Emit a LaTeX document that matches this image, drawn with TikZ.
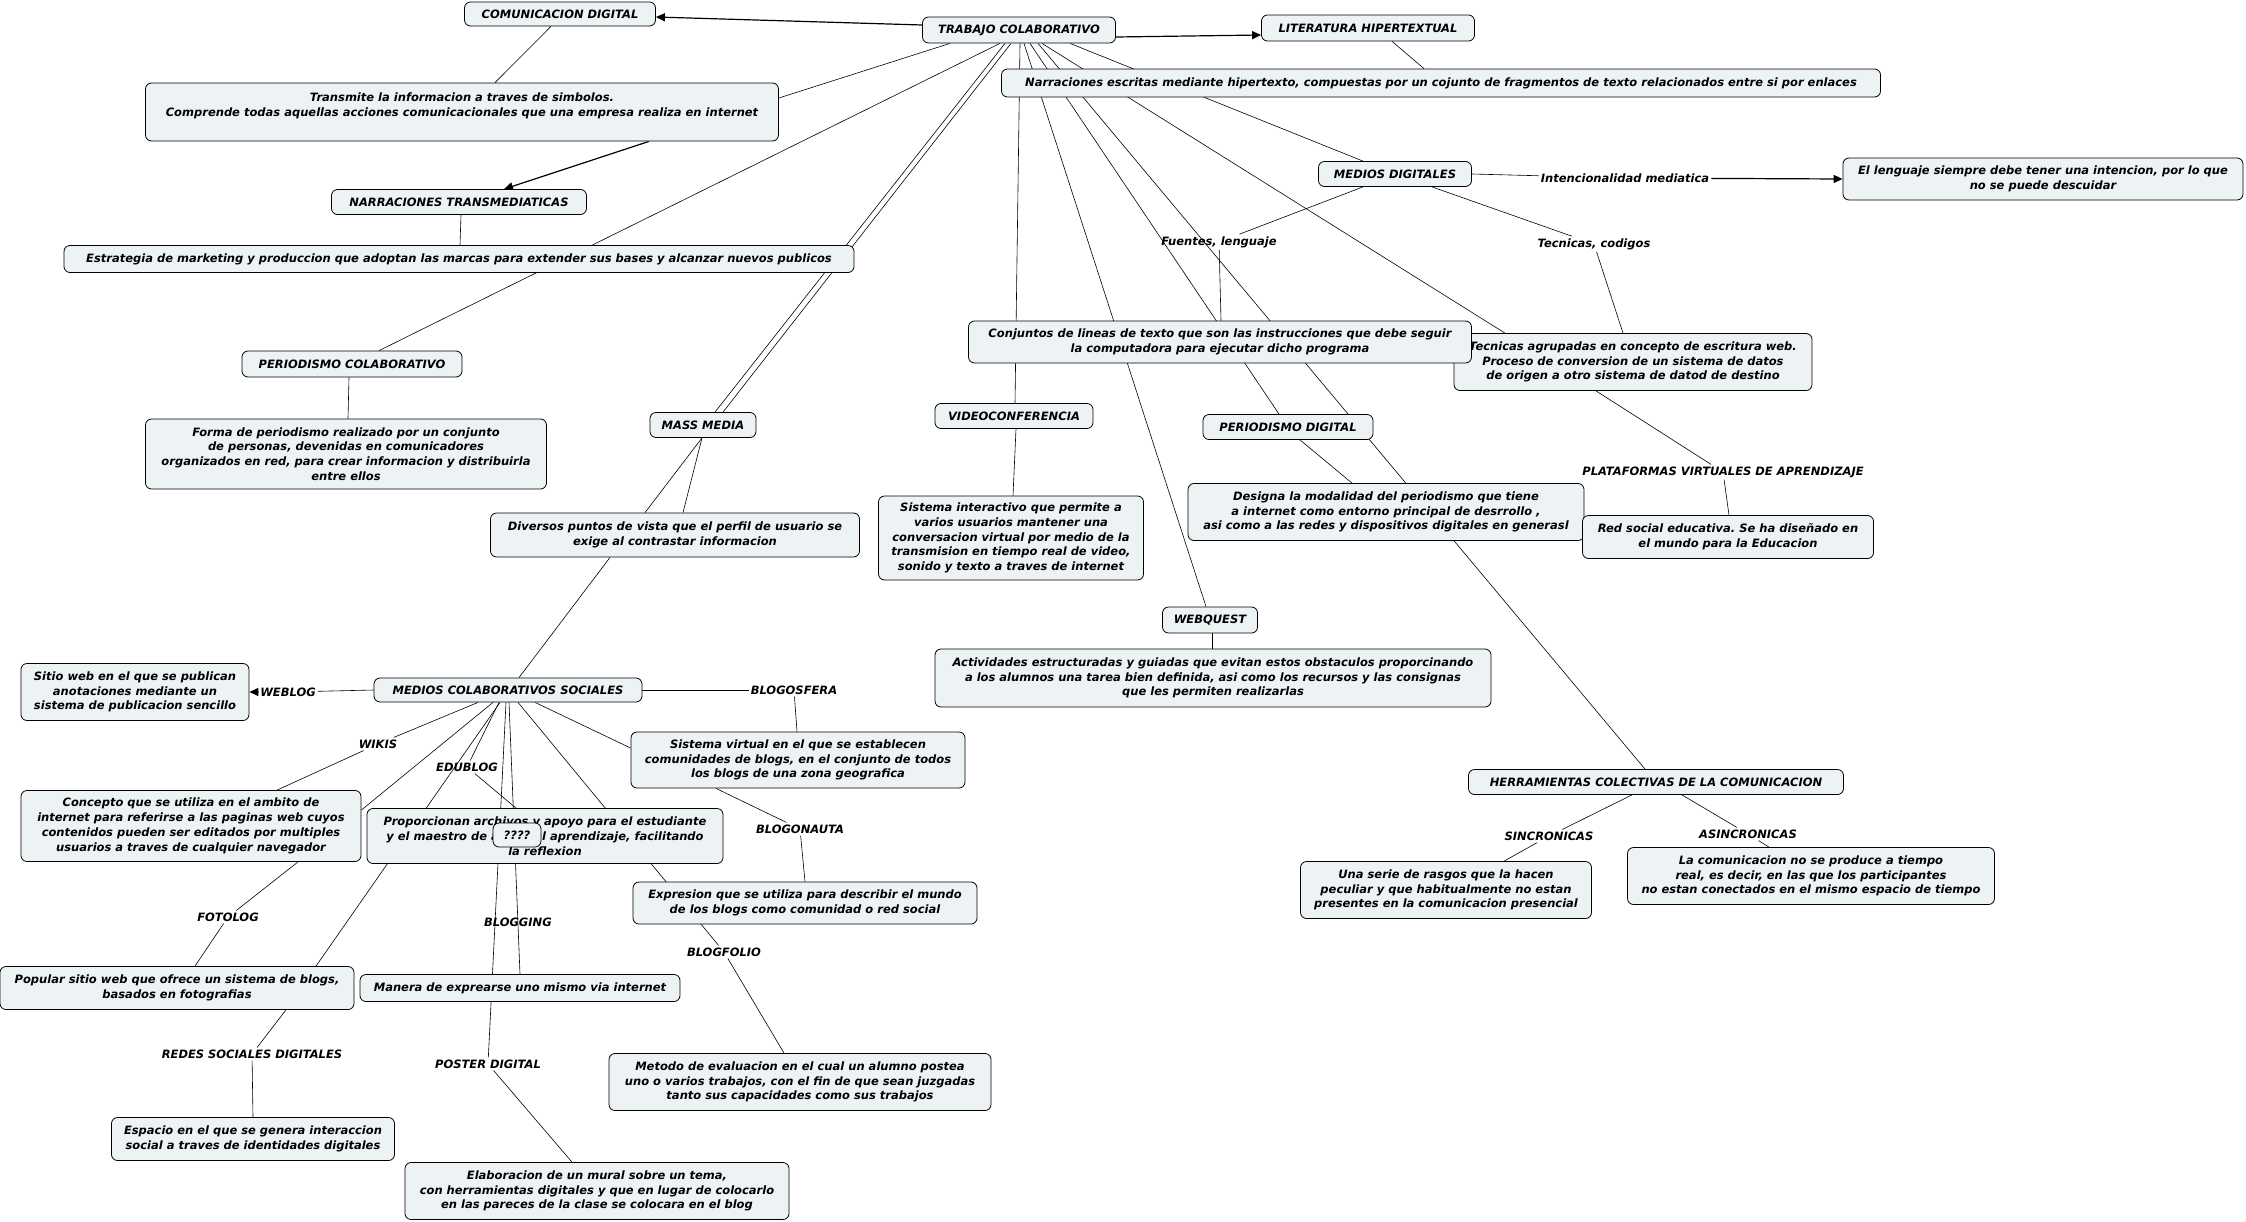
\documentclass[tikz,border=0pt]{standalone}
\usepackage{fontspec}
\setmainfont{DejaVu Sans}
\frenchspacing
\definecolor{ConceptFill}{HTML}{EDF3F5}
\usetikzlibrary{arrows.meta, backgrounds}

\begin{document}
\begin{tikzpicture}[x=1pt, y=-1pt,
    every node/.style={font=\fontsize{11.5}{14.8}\selectfont\bfseries\itshape, align=center},
    concept/.style={draw, fill=ConceptFill, rounded corners=6pt, line width=0.8pt, inner xsep=5pt, inner ysep=3pt},
    linkword/.style={inner sep=2pt},
    conn/.style={line width=0.6pt},
    connarrow/.style={line width=1.2pt, -{Triangle[length=9pt, width=8pt]}}]
  \useasboundingbox (0,0) rectangle (2246,1221);

  % Haut : trabajo colaborativo
  \node[concept, minimum width=191pt, minimum height=24pt] (cd) at (560,14) {COMUNICACION DIGITAL};
  \node[concept, minimum width=193pt, minimum height=26pt] (tc) at (1019,30) {TRABAJO COLABORATIVO};
  \node[concept, minimum width=213pt, minimum height=26pt] (lh) at (1368,28) {LITERATURA HIPERTEXTUAL};
  \node[concept, minimum width=879pt, minimum height=28pt] (narr) at (1441,83) {Narraciones escritas mediante hipertexto, compuestas por un cojunto de fragmentos de texto relacionados entre si por enlaces};
  \node[concept, minimum width=633pt, minimum height=58pt] (tr) at (462,112) {Transmite la informacion a traves de simbolos.\\Comprende todas aquellas acciones comunicacionales que una empresa realiza en internet\\\mbox{}};
  \node[concept, minimum width=255pt, minimum height=25pt] (nt) at (459,202) {NARRACIONES TRANSMEDIATICAS};
  \node[concept, minimum width=790pt, minimum height=27pt] (est) at (459,259) {Estrategia de marketing y produccion que adoptan las marcas para extender sus bases y alcanzar nuevos publicos};
  \node[concept, minimum width=220pt, minimum height=26pt] (pc) at (352,364) {PERIODISMO COLABORATIVO};
  \node[concept, minimum width=401pt, minimum height=70pt] (forma) at (346,454) {Forma de periodismo realizado por un conjunto\\de personas, devenidas en comunicadores\\organizados en red, para crear informacion y distribuirla\\entre ellos};
  \node[concept, minimum width=106pt, minimum height=25pt] (mm) at (703,425) {MASS MEDIA};
  \node[concept, minimum width=369pt, minimum height=44pt] (div) at (675,535) {Diversos puntos de vista que el perfil de usuario se\\exige al contrastar informacion};

  % Medios digitales
  \node[concept, minimum width=153pt, minimum height=25pt] (md) at (1395,174) {MEDIOS DIGITALES};
  \node[concept, minimum width=400pt, minimum height=42pt] (leng) at (2043,179) {El lenguaje siempre debe tener una intencion, por lo que\\no se puede descuidar};
  \node[concept, minimum width=358pt, minimum height=57pt] (tecn) at (1633,362) {Tecnicas agrupadas en concepto de escritura web.\\Proceso de conversion de un sistema de datos\\de origen a otro sistema de datod de destino};
  \node[concept, minimum width=503pt, minimum height=42pt] (conj) at (1220,342) {Conjuntos de lineas de texto que son las instrucciones que debe seguir\\la computadora para ejecutar dicho programa};
  \node[concept, minimum width=158pt, minimum height=25pt] (vc) at (1014,416) {VIDEOCONFERENCIA};
  \node[concept, minimum width=265pt, minimum height=84pt] (sint) at (1011,538) {Sistema interactivo que permite a\\varios usuarios mantener una\\conversacion virtual por medio de la\\transmision en tiempo real de video,\\sonido y texto a traves de internet};
  \node[concept, minimum width=170pt, minimum height=25pt] (pd) at (1288,427) {PERIODISMO DIGITAL};
  \node[concept, minimum width=396pt, minimum height=57pt] (des) at (1386,512) {Designa la modalidad del periodismo que tiene\\a internet como entorno principal de desrrollo ,\\asi como a las redes y dispositivos digitales en generasl};
  \node[concept, minimum width=291pt, minimum height=43pt] (red) at (1728,537) {Red social educativa. Se ha diseñado en\\el mundo para la Educacion};
  \node[concept, minimum width=95pt, minimum height=26pt] (wq) at (1210,620) {WEBQUEST};
  \node[concept, minimum width=556pt, minimum height=58pt] (act) at (1213,678) {Actividades estructuradas y guiadas que evitan estos obstaculos proporcinando\\a los alumnos una tarea bien definida, asi como los recursos y las consignas\\que les permiten realizarlas};
  \node[concept, minimum width=375pt, minimum height=25pt] (herr) at (1656,782) {HERRAMIENTAS COLECTIVAS DE LA COMUNICACION};
  \node[concept, minimum width=291pt, minimum height=57pt] (una) at (1446,890) {Una serie de rasgos que la hacen\\peculiar y que habitualmente no estan\\presentes en la comunicacion presencial};
  \node[concept, minimum width=367pt, minimum height=57pt] (lacom) at (1811,876) {La comunicacion no se produce a tiempo\\real, es decir, en las que los participantes\\no estan conectados en el mismo espacio de tiempo};

  % Medios colaborativos sociales
  \node[concept, minimum width=228pt, minimum height=57pt] (sitio) at (135,692) {Sitio web en el que se publican\\anotaciones mediante un\\sistema de publicacion sencillo};
  \node[concept, minimum width=268pt, minimum height=24pt] (mcs) at (508,690) {MEDIOS COLABORATIVOS SOCIALES};
  \node[concept, minimum width=334pt, minimum height=56pt] (sv) at (798,760) {Sistema virtual en el que se establecen\\comunidades de blogs, en el conjunto de todos\\los blogs de una zona geografica};
  \node[concept, minimum width=340pt, minimum height=71pt] (conc) at (191,826) {Concepto que se utiliza en el ambito de\\internet para referirse a las paginas web cuyos\\contenidos pueden ser editados por multiples\\usuarios a traves de cualquier navegador};
  \node[concept, minimum width=356pt, minimum height=55pt] (prop) at (545,836) {Proporcionan archivos y apoyo para el estudiante\\y el maestro de apoyo al aprendizaje, facilitando\\la reflexion};
  \node[concept, minimum width=48pt, minimum height=24pt, inner xsep=2pt] (qq) at (517,835) {????};
  \node[concept, minimum width=344pt, minimum height=42pt] (exp) at (805,903) {Expresion que se utiliza para describir el mundo\\de los blogs como comunidad o red social};
  \node[concept, minimum width=354pt, minimum height=43pt] (pop) at (177,988) {Popular sitio web que ofrece un sistema de blogs,\\basados en fotografias};
  \node[concept, minimum width=320pt, minimum height=27pt] (man) at (520,988) {Manera de exprearse uno mismo via internet};
  \node[concept, minimum width=382pt, minimum height=57pt] (met) at (800,1082) {Metodo de evaluacion en el cual un alumno postea\\uno o varios trabajos, con el fin de que sean juzgadas\\tanto sus capacidades como sus trabajos};
  \node[concept, minimum width=283pt, minimum height=43pt] (esp) at (253,1139) {Espacio en el que se genera interaccion\\social a traves de identidades digitales};
  \node[concept, minimum width=384pt, minimum height=57pt] (elab) at (597,1191) {Elaboracion de un mural sobre un tema,\\con herramientas digitales y que en lugar de colocarlo\\en las pareces de la clase se colocara en el blog};

  % Mots de liaison
  \node[linkword] (intenc) at (1625,178) {Intencionalidad mediatica};
  \node[linkword] (fuentes) at (1219,242) {Fuentes, lenguaje};
  \node[linkword] (tecnic) at (1594,244) {Tecnicas, codigos};
  \node[linkword] (plat) at (1723,472) {PLATAFORMAS VIRTUALES DE APRENDIZAJE};
  \node[linkword] (sinc) at (1549,836) {SINCRONICAS};
  \node[linkword] (asinc) at (1748,834) {ASINCRONICAS};
  \node[linkword] (weblog) at (288,692) {WEBLOG};
  \node[linkword] (blogos) at (794,690) {BLOGOSFERA};
  \node[linkword] (wikis) at (378,744) {WIKIS};
  \node[linkword] (edublog) at (467,767) {EDUBLOG};
  \node[linkword] (blogon) at (800,829) {BLOGONAUTA};
  \node[linkword] (fotolog) at (228,917) {FOTOLOG};
  \node[linkword] (blogfolio) at (724,952) {BLOGFOLIO};
  \node[linkword] (redes) at (252,1054) {REDES SOCIALES DIGITALES};
  \node[linkword] (poster) at (488,1064) {POSTER DIGITAL};

  % Liens (derriere les boites)
  \begin{scope}[on background layer]
    \draw[connarrow] ([yshift=5pt]tc.west) -- ([yshift=-3pt]cd.east);
    \draw[connarrow] ([yshift=-7pt]tc.east) -- ([yshift=-7pt]lh.west);
    \draw[conn] ([xshift=-9pt]cd.south) -- ([xshift=33pt]tr.north);
    \draw[connarrow] ([xshift=187pt]tr.south) -- ([xshift=45pt]nt.north);
    \draw[conn] ([xshift=2pt]nt.south) -- ([xshift=1pt]est.north);
    \draw[conn] ([xshift=-69pt]tc.south) -- ([yshift=14pt]tr.east);
    \draw[conn] ([xshift=-19pt]tc.south) -- ([xshift=27pt]pc.north);
    \draw[conn] ([xshift=-14pt]tc.south) -- ([xshift=12pt]mm.north);
    \draw[conn] ([xshift=-8pt]tc.south) -- ([xshift=20pt]mm.north);
    \draw[conn] ([xshift=1pt]tc.south) -- ([xshift=1pt]vc.north);
    \draw[conn] ([xshift=5pt]tc.south) -- ([xshift=-4pt]wq.north);
    \draw[conn] ([xshift=11pt]tc.south) -- ([xshift=-9pt]pd.north);
    \draw[conn] ([xshift=19pt]tc.south) -- ([xshift=-11pt]herr.north);
    \draw[conn] ([xshift=23pt]tc.south) -- ([xshift=-128pt]tecn.north);
    \draw[conn] ([xshift=51pt]tc.south) -- ([xshift=-32pt]md.north);
    \draw[conn] ([xshift=24pt]lh.south) -- ([xshift=-17pt]narr.north);
    \draw[conn] ([xshift=-3pt]pc.south) -- ([xshift=2pt]forma.north);
    \draw[conn] ([xshift=-1pt]mm.south) -- ([xshift=-30pt]div.north);
    \draw[conn] ([xshift=-1pt]mm.south) -- ([xshift=8pt]div.north);
    \draw[conn] ([xshift=-65pt]div.south) -- ([xshift=11pt]mcs.north);

    \draw[conn] ([xshift=-32pt]md.south) -- (fuentes);
    \draw[conn] (fuentes) -- ([xshift=1pt]conj.north);
    \draw[conn] ([xshift=37pt]md.south) -- (tecnic);
    \draw[conn] (tecnic) -- ([xshift=-10pt]tecn.north);
    \draw[conn] (md.east) -- (intenc);
    \draw[connarrow] (intenc) -- (leng.west);
    \draw[conn] ([xshift=-37pt]tecn.south) -- (plat);
    \draw[conn] (plat) -- ([xshift=1pt]red.north);
    \draw[conn] ([xshift=2pt]vc.south) -- ([xshift=2pt]sint.north);
    \draw[conn] ([xshift=12pt]pd.south) -- ([xshift=-34pt]des.north);
    \draw[conn] ([xshift=2pt]wq.south) -- ([xshift=-1pt]act.north);
    \draw[conn] ([xshift=-24pt]herr.south) -- (sinc);
    \draw[conn] (sinc) -- ([xshift=58pt]una.north);
    \draw[conn] ([xshift=26pt]herr.south) -- (asinc);
    \draw[conn] (asinc) -- ([xshift=-42pt]lacom.north);

    \draw[conn] (mcs.west) -- (weblog);
    \draw[connarrow] (weblog) -- (sitio.east);
    \draw[conn] (mcs.east) -- (blogos);
    \draw[conn] (blogos) -- ([xshift=-1pt]sv.north);
    \draw[conn] ([xshift=-30pt]mcs.south) -- (wikis);
    \draw[conn] (wikis) -- ([xshift=86pt]conc.north);
    \draw[conn] ([xshift=-15pt]mcs.south) -- ([yshift=16pt]conc.east);
    \draw[conn] ([xshift=-8pt]mcs.south) -- ([xshift=139pt]pop.north);
    \draw[conn] ([xshift=-9pt]mcs.south) -- (edublog);
    \draw[conn] (edublog) -- ([xshift=-29pt]prop.north);
    \draw[conn] ([xshift=1pt]mcs.south) -- node[linkword, pos=0.81] (blogging) {BLOGGING} (man.north);
    \draw[conn] ([xshift=-2pt]mcs.south) -- (poster);
    \draw[conn] (poster) -- ([xshift=-25pt]elab.north);
    \draw[conn] ([xshift=10pt]mcs.south) -- (blogfolio);
    \draw[conn] (blogfolio) -- ([xshift=-16pt]met.north);
    \draw[conn] ([xshift=27pt]mcs.south) -- ([yshift=12pt]sv.west);
    \draw[conn] ([xshift=-82pt]sv.south) -- (blogon);
    \draw[conn] (blogon) -- (exp.north);
    \draw[conn] ([xshift=107pt]conc.south) -- (fotolog);
    \draw[conn] (fotolog) -- ([xshift=18pt]pop.north);
    \draw[conn] ([xshift=109pt]pop.south) -- (redes);
    \draw[conn] (redes) -- (esp.north);
  \end{scope}
\end{tikzpicture}
\end{document}
